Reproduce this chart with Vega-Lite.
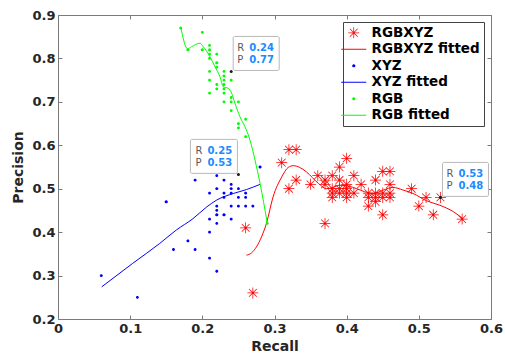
{
  "$schema": "https://vega.github.io/schema/vega-lite/v6.json",
  "width": 433,
  "height": 304,
  "autosize": "none",
  "padding": {"left": 58, "top": 15, "right": 14, "bottom": 35},
  "background": "white",
  "config": {
    "font": "DejaVu Sans",
    "view": {"stroke": null},
    "axis": {
      "grid": false,
      "domainColor": "#7a7a7a",
      "tickColor": "#7a7a7a",
      "tickSize": -4,
      "labelFont": "DejaVu Sans",
      "labelFontWeight": "bold",
      "labelFontSize": 13,
      "labelColor": "#262626",
      "labelOverlap": false,
      "labelFlush": false,
      "titleFont": "DejaVu Sans",
      "titleFontWeight": "bold",
      "titleFontSize": 14,
      "titleColor": "#262626"
    },
    "legend": {
      "orient": "top-right",
      "offset": 7,
      "labelFont": "DejaVu Sans",
      "labelFontWeight": "bold",
      "labelFontSize": 13.5,
      "labelColor": "#000000",
      "strokeColor": "#444444",
      "fillColor": "white",
      "padding": 4,
      "symbolSize": 100,
      "symbolStrokeWidth": 0,
      "rowPadding": 1.5,
      "symbolOffset": 0,
      "labelOffset": 11
    }
  },
  "datasets": {
    "pts": [
      {"series": "RGBXYZ", "x": 0.32, "y": 0.59}, {"series": "RGBXYZ", "x": 0.33, "y": 0.59},
      {"series": "RGBXYZ", "x": 0.31, "y": 0.56}, {"series": "RGBXYZ", "x": 0.40, "y": 0.57},
      {"series": "RGBXYZ", "x": 0.39, "y": 0.55}, {"series": "RGBXYZ", "x": 0.33, "y": 0.52},
      {"series": "RGBXYZ", "x": 0.32, "y": 0.50}, {"series": "RGBXYZ", "x": 0.35, "y": 0.51},
      {"series": "RGBXYZ", "x": 0.36, "y": 0.53}, {"series": "RGBXYZ", "x": 0.37, "y": 0.52},
      {"series": "RGBXYZ", "x": 0.38, "y": 0.53}, {"series": "RGBXYZ", "x": 0.37, "y": 0.51},
      {"series": "RGBXYZ", "x": 0.39, "y": 0.52}, {"series": "RGBXYZ", "x": 0.41, "y": 0.53},
      {"series": "RGBXYZ", "x": 0.42, "y": 0.51}, {"series": "RGBXYZ", "x": 0.38, "y": 0.50},
      {"series": "RGBXYZ", "x": 0.39, "y": 0.50}, {"series": "RGBXYZ", "x": 0.40, "y": 0.50},
      {"series": "RGBXYZ", "x": 0.41, "y": 0.49}, {"series": "RGBXYZ", "x": 0.38, "y": 0.49},
      {"series": "RGBXYZ", "x": 0.39, "y": 0.49}, {"series": "RGBXYZ", "x": 0.40, "y": 0.49},
      {"series": "RGBXYZ", "x": 0.38, "y": 0.48}, {"series": "RGBXYZ", "x": 0.40, "y": 0.48},
      {"series": "RGBXYZ", "x": 0.40, "y": 0.51}, {"series": "RGBXYZ", "x": 0.44, "y": 0.52},
      {"series": "RGBXYZ", "x": 0.45, "y": 0.54}, {"series": "RGBXYZ", "x": 0.46, "y": 0.54},
      {"series": "RGBXYZ", "x": 0.46, "y": 0.51}, {"series": "RGBXYZ", "x": 0.43, "y": 0.49},
      {"series": "RGBXYZ", "x": 0.44, "y": 0.49}, {"series": "RGBXYZ", "x": 0.45, "y": 0.49},
      {"series": "RGBXYZ", "x": 0.46, "y": 0.49}, {"series": "RGBXYZ", "x": 0.43, "y": 0.48},
      {"series": "RGBXYZ", "x": 0.44, "y": 0.48}, {"series": "RGBXYZ", "x": 0.45, "y": 0.48},
      {"series": "RGBXYZ", "x": 0.46, "y": 0.48}, {"series": "RGBXYZ", "x": 0.44, "y": 0.47},
      {"series": "RGBXYZ", "x": 0.43, "y": 0.46}, {"series": "RGBXYZ", "x": 0.45, "y": 0.44},
      {"series": "RGBXYZ", "x": 0.49, "y": 0.50}, {"series": "RGBXYZ", "x": 0.51, "y": 0.48},
      {"series": "RGBXYZ", "x": 0.50, "y": 0.46}, {"series": "RGBXYZ", "x": 0.52, "y": 0.44},
      {"series": "RGBXYZ", "x": 0.56, "y": 0.43}, {"series": "RGBXYZ", "x": 0.37, "y": 0.42},
      {"series": "RGBXYZ", "x": 0.26, "y": 0.41}, {"series": "RGBXYZ", "x": 0.27, "y": 0.26},
      {"series": "RGBXYZ", "x": 0.53, "y": 0.48},
      {"series": "XYZ", "x": 0.06, "y": 0.30}, {"series": "XYZ", "x": 0.11, "y": 0.25},
      {"series": "XYZ", "x": 0.15, "y": 0.47}, {"series": "XYZ", "x": 0.16, "y": 0.36},
      {"series": "XYZ", "x": 0.18, "y": 0.38}, {"series": "XYZ", "x": 0.19, "y": 0.36},
      {"series": "XYZ", "x": 0.19, "y": 0.52}, {"series": "XYZ", "x": 0.21, "y": 0.34},
      {"series": "XYZ", "x": 0.21, "y": 0.40}, {"series": "XYZ", "x": 0.21, "y": 0.43},
      {"series": "XYZ", "x": 0.21, "y": 0.49}, {"series": "XYZ", "x": 0.22, "y": 0.31},
      {"series": "XYZ", "x": 0.22, "y": 0.42}, {"series": "XYZ", "x": 0.22, "y": 0.44},
      {"series": "XYZ", "x": 0.22, "y": 0.45}, {"series": "XYZ", "x": 0.22, "y": 0.46},
      {"series": "XYZ", "x": 0.22, "y": 0.50}, {"series": "XYZ", "x": 0.22, "y": 0.53},
      {"series": "XYZ", "x": 0.23, "y": 0.44}, {"series": "XYZ", "x": 0.23, "y": 0.48},
      {"series": "XYZ", "x": 0.23, "y": 0.49}, {"series": "XYZ", "x": 0.23, "y": 0.52},
      {"series": "XYZ", "x": 0.24, "y": 0.43}, {"series": "XYZ", "x": 0.24, "y": 0.46},
      {"series": "XYZ", "x": 0.24, "y": 0.49}, {"series": "XYZ", "x": 0.24, "y": 0.50},
      {"series": "XYZ", "x": 0.24, "y": 0.51}, {"series": "XYZ", "x": 0.25, "y": 0.46},
      {"series": "XYZ", "x": 0.25, "y": 0.48}, {"series": "XYZ", "x": 0.25, "y": 0.50},
      {"series": "XYZ", "x": 0.26, "y": 0.46}, {"series": "XYZ", "x": 0.26, "y": 0.48},
      {"series": "XYZ", "x": 0.26, "y": 0.49}, {"series": "XYZ", "x": 0.27, "y": 0.46},
      {"series": "XYZ", "x": 0.28, "y": 0.55},
      {"series": "RGB", "x": 0.17, "y": 0.87}, {"series": "RGB", "x": 0.20, "y": 0.86},
      {"series": "RGB", "x": 0.18, "y": 0.82}, {"series": "RGB", "x": 0.21, "y": 0.83},
      {"series": "RGB", "x": 0.20, "y": 0.82}, {"series": "RGB", "x": 0.21, "y": 0.82},
      {"series": "RGB", "x": 0.21, "y": 0.81}, {"series": "RGB", "x": 0.22, "y": 0.81},
      {"series": "RGB", "x": 0.21, "y": 0.80}, {"series": "RGB", "x": 0.22, "y": 0.79},
      {"series": "RGB", "x": 0.22, "y": 0.78}, {"series": "RGB", "x": 0.21, "y": 0.77},
      {"series": "RGB", "x": 0.23, "y": 0.77}, {"series": "RGB", "x": 0.23, "y": 0.76},
      {"series": "RGB", "x": 0.21, "y": 0.75}, {"series": "RGB", "x": 0.23, "y": 0.75},
      {"series": "RGB", "x": 0.24, "y": 0.75}, {"series": "RGB", "x": 0.22, "y": 0.74},
      {"series": "RGB", "x": 0.23, "y": 0.74}, {"series": "RGB", "x": 0.22, "y": 0.73},
      {"series": "RGB", "x": 0.23, "y": 0.73}, {"series": "RGB", "x": 0.21, "y": 0.72},
      {"series": "RGB", "x": 0.23, "y": 0.72}, {"series": "RGB", "x": 0.24, "y": 0.71},
      {"series": "RGB", "x": 0.23, "y": 0.70}, {"series": "RGB", "x": 0.24, "y": 0.70},
      {"series": "RGB", "x": 0.25, "y": 0.70}, {"series": "RGB", "x": 0.24, "y": 0.68},
      {"series": "RGB", "x": 0.26, "y": 0.66}, {"series": "RGB", "x": 0.25, "y": 0.65},
      {"series": "RGB", "x": 0.25, "y": 0.64}, {"series": "RGB", "x": 0.26, "y": 0.62},
      {"series": "RGB", "x": 0.29, "y": 0.42}
    ],
    "fits": [
      {"series": "RGBXYZ fitted", "x": 0.261, "y": 0.347}, {"series": "RGBXYZ fitted", "x": 0.268, "y": 0.352},
      {"series": "RGBXYZ fitted", "x": 0.275, "y": 0.366}, {"series": "RGBXYZ fitted", "x": 0.282, "y": 0.389},
      {"series": "RGBXYZ fitted", "x": 0.289, "y": 0.421}, {"series": "RGBXYZ fitted", "x": 0.298, "y": 0.481},
      {"series": "RGBXYZ fitted", "x": 0.310, "y": 0.527}, {"series": "RGBXYZ fitted", "x": 0.319, "y": 0.549},
      {"series": "RGBXYZ fitted", "x": 0.326, "y": 0.553}, {"series": "RGBXYZ fitted", "x": 0.335, "y": 0.549},
      {"series": "RGBXYZ fitted", "x": 0.344, "y": 0.539}, {"series": "RGBXYZ fitted", "x": 0.361, "y": 0.512},
      {"series": "RGBXYZ fitted", "x": 0.372, "y": 0.500}, {"series": "RGBXYZ fitted", "x": 0.381, "y": 0.503},
      {"series": "RGBXYZ fitted", "x": 0.390, "y": 0.508}, {"series": "RGBXYZ fitted", "x": 0.402, "y": 0.506},
      {"series": "RGBXYZ fitted", "x": 0.414, "y": 0.500}, {"series": "RGBXYZ fitted", "x": 0.425, "y": 0.493},
      {"series": "RGBXYZ fitted", "x": 0.437, "y": 0.489}, {"series": "RGBXYZ fitted", "x": 0.451, "y": 0.497},
      {"series": "RGBXYZ fitted", "x": 0.464, "y": 0.503}, {"series": "RGBXYZ fitted", "x": 0.478, "y": 0.497},
      {"series": "RGBXYZ fitted", "x": 0.492, "y": 0.489}, {"series": "RGBXYZ fitted", "x": 0.511, "y": 0.472},
      {"series": "RGBXYZ fitted", "x": 0.529, "y": 0.462}, {"series": "RGBXYZ fitted", "x": 0.548, "y": 0.447},
      {"series": "RGBXYZ fitted", "x": 0.561, "y": 0.431},
      {"series": "XYZ fitted", "x": 0.0605, "y": 0.274}, {"series": "XYZ fitted", "x": 0.1034, "y": 0.328},
      {"series": "XYZ fitted", "x": 0.141, "y": 0.374}, {"series": "XYZ fitted", "x": 0.164, "y": 0.405},
      {"series": "XYZ fitted", "x": 0.187, "y": 0.431}, {"series": "XYZ fitted", "x": 0.206, "y": 0.458},
      {"series": "XYZ fitted", "x": 0.220, "y": 0.474}, {"series": "XYZ fitted", "x": 0.243, "y": 0.489},
      {"series": "XYZ fitted", "x": 0.261, "y": 0.498}, {"series": "XYZ fitted", "x": 0.280, "y": 0.510},
      {"series": "RGB fitted", "x": 0.170, "y": 0.873}, {"series": "RGB fitted", "x": 0.1796, "y": 0.822},
      {"series": "RGB fitted", "x": 0.185, "y": 0.827}, {"series": "RGB fitted", "x": 0.1967, "y": 0.835},
      {"series": "RGB fitted", "x": 0.2013, "y": 0.827}, {"series": "RGB fitted", "x": 0.2105, "y": 0.804},
      {"series": "RGB fitted", "x": 0.2175, "y": 0.781}, {"series": "RGB fitted", "x": 0.2244, "y": 0.758},
      {"series": "RGB fitted", "x": 0.229, "y": 0.735}, {"series": "RGB fitted", "x": 0.2359, "y": 0.731},
      {"series": "RGB fitted", "x": 0.2406, "y": 0.720}, {"series": "RGB fitted", "x": 0.2452, "y": 0.697},
      {"series": "RGB fitted", "x": 0.252, "y": 0.666}, {"series": "RGB fitted", "x": 0.259, "y": 0.643},
      {"series": "RGB fitted", "x": 0.266, "y": 0.612}, {"series": "RGB fitted", "x": 0.273, "y": 0.566},
      {"series": "RGB fitted", "x": 0.280, "y": 0.512}, {"series": "RGB fitted", "x": 0.290, "y": 0.421}
    ],
    "tips": [
      {"x": 0.24, "y": 0.77, "r": "0.24", "p": "0.77", "side": "right"},
      {"x": 0.25, "y": 0.533, "r": "0.25", "p": "0.53", "side": "left"},
      {"x": 0.53, "y": 0.48, "r": "0.53", "p": "0.48", "side": "right"}
    ]
  },
  "layer": [
    {
      "layer": [
        {
          "data": {"name": "fits"},
          "mark": {"type": "line", "interpolate": "monotone", "strokeWidth": 1},
          "encoding": {
            "x": {"field": "x", "type": "quantitative", "scale": {"domain": [0, 0.6]},
              "axis": {"values": [0, 0.1, 0.2, 0.3, 0.4, 0.5, 0.6], "labelExpr": "datum.value == 0 ? '0' : format(datum.value, '.1f')", "title": "Recall", "labelPadding": 7, "titlePadding": 4}},
            "y": {"field": "y", "type": "quantitative", "scale": {"domain": [0.2, 0.9]},
              "axis": {"values": [0.2, 0.3, 0.4, 0.5, 0.6, 0.7, 0.8, 0.9], "format": ".1f", "title": "Precision", "labelPadding": 7, "titlePadding": 6}},
            "color": {"field": "series", "type": "nominal",
              "scale": {"domain": ["RGBXYZ", "RGBXYZ fitted", "XYZ", "XYZ fitted", "RGB", "RGB fitted"],
                "range": ["#ff0000", "#ff0000", "#0000ff", "#0000ff", "#00ff00", "#00ff00"]},
              "legend": {"title": null}},
            "detail": {"field": "series"}
          }
        },
        {
          "data": {"name": "pts"},
          "mark": {"type": "point", "filled": true, "size": 100, "strokeWidth": 0, "opacity": 1},
          "encoding": {
            "x": {"field": "x", "type": "quantitative"},
            "y": {"field": "y", "type": "quantitative"},
            "color": {"field": "series", "type": "nominal", "legend": {"title": null}},
            "shape": {"field": "series", "type": "nominal",
              "scale": {"domain": ["RGBXYZ", "RGBXYZ fitted", "XYZ", "XYZ fitted", "RGB", "RGB fitted"],
                "range": [
                  "M-1.1,-0.075H1.1V0.075H-1.1Z M-0.075,-1.1H0.075V1.1H-0.075Z M-0.727,-0.833L0.833,0.727L0.727,0.833L-0.833,-0.727Z M-0.833,0.727L0.727,-0.833L0.833,-0.727L-0.727,0.833Z",
                  "M-2.5,-0.1H2.5V0.1H-2.5Z",
                  "M0.28,0.116L0.116,0.28L-0.116,0.28L-0.28,0.116L-0.28,-0.116L-0.116,-0.28L0.116,-0.28L0.28,-0.116Z",
                  "M-2.5,-0.1H2.5V0.1H-2.5Z",
                  "M0.28,0.116L0.116,0.28L-0.116,0.28L-0.28,0.116L-0.28,-0.116L-0.116,-0.28L0.116,-0.28L0.28,-0.116Z",
                  "M-2.5,-0.1H2.5V0.1H-2.5Z"
                ]},
              "legend": {"title": null}}
          }
        },
        {
          "data": {"name": "tips"},
          "mark": {"type": "point", "filled": true, "shape": "circle", "size": 9, "color": "#1a1a1a", "opacity": 1},
          "encoding": {
            "x": {"field": "x", "type": "quantitative"},
            "y": {"field": "y", "type": "quantitative"}
          }
        },
        {
          "data": {"name": "tips"},
          "transform": [{"filter": "datum.side == 'right'"}],
          "layer": [
            {"mark": {"type": "rect", "fill": "white", "stroke": "#b8b8b8", "strokeWidth": 1, "cornerRadius": 1.5, "xOffset": 2, "x2Offset": 48, "yOffset": -35, "y2Offset": -1},
             "encoding": {"x": {"field": "x", "type": "quantitative"}, "x2": {"field": "x"}, "y": {"field": "y", "type": "quantitative"}, "y2": {"field": "y"}}},
            {"mark": {"type": "text", "align": "left", "baseline": "alphabetic", "dx": 6, "dy": -20, "fontSize": 10, "color": "#5a5a5a"},
             "encoding": {"x": {"field": "x", "type": "quantitative"}, "y": {"field": "y", "type": "quantitative"}, "text": {"value": "R"}}},
            {"mark": {"type": "text", "align": "left", "baseline": "alphabetic", "dx": 6, "dy": -8, "fontSize": 10, "color": "#5a5a5a"},
             "encoding": {"x": {"field": "x", "type": "quantitative"}, "y": {"field": "y", "type": "quantitative"}, "text": {"value": "P"}}},
            {"mark": {"type": "text", "align": "left", "baseline": "alphabetic", "dx": 18, "dy": -20, "fontSize": 10, "fontWeight": "bold", "color": "#1a8cff"},
             "encoding": {"x": {"field": "x", "type": "quantitative"}, "y": {"field": "y", "type": "quantitative"}, "text": {"field": "r"}}},
            {"mark": {"type": "text", "align": "left", "baseline": "alphabetic", "dx": 18, "dy": -8, "fontSize": 10, "fontWeight": "bold", "color": "#1a8cff"},
             "encoding": {"x": {"field": "x", "type": "quantitative"}, "y": {"field": "y", "type": "quantitative"}, "text": {"field": "p"}}}
          ]
        },
        {
          "data": {"name": "tips"},
          "transform": [{"filter": "datum.side == 'left'"}],
          "layer": [
            {"mark": {"type": "rect", "fill": "white", "stroke": "#b8b8b8", "strokeWidth": 1, "cornerRadius": 1.5, "xOffset": -48, "x2Offset": -1, "yOffset": -35, "y2Offset": -1},
             "encoding": {"x": {"field": "x", "type": "quantitative"}, "x2": {"field": "x"}, "y": {"field": "y", "type": "quantitative"}, "y2": {"field": "y"}}},
            {"mark": {"type": "text", "align": "left", "baseline": "alphabetic", "dx": -43, "dy": -20, "fontSize": 10, "color": "#5a5a5a"},
             "encoding": {"x": {"field": "x", "type": "quantitative"}, "y": {"field": "y", "type": "quantitative"}, "text": {"value": "R"}}},
            {"mark": {"type": "text", "align": "left", "baseline": "alphabetic", "dx": -43, "dy": -8, "fontSize": 10, "color": "#5a5a5a"},
             "encoding": {"x": {"field": "x", "type": "quantitative"}, "y": {"field": "y", "type": "quantitative"}, "text": {"value": "P"}}},
            {"mark": {"type": "text", "align": "left", "baseline": "alphabetic", "dx": -31, "dy": -20, "fontSize": 10, "fontWeight": "bold", "color": "#1a8cff"},
             "encoding": {"x": {"field": "x", "type": "quantitative"}, "y": {"field": "y", "type": "quantitative"}, "text": {"field": "r"}}},
            {"mark": {"type": "text", "align": "left", "baseline": "alphabetic", "dx": -31, "dy": -8, "fontSize": 10, "fontWeight": "bold", "color": "#1a8cff"},
             "encoding": {"x": {"field": "x", "type": "quantitative"}, "y": {"field": "y", "type": "quantitative"}, "text": {"field": "p"}}}
          ]
        }
      ]
    },
    {
      "data": {"name": "tips"},
      "mark": {"type": "point", "opacity": 0},
      "encoding": {
        "x": {"field": "x", "type": "quantitative", "axis": {"orient": "top", "labels": false, "title": null, "values": [0, 0.1, 0.2, 0.3, 0.4, 0.5, 0.6]}},
        "y": {"field": "y", "type": "quantitative", "axis": {"orient": "right", "labels": false, "title": null, "values": [0.2, 0.3, 0.4, 0.5, 0.6, 0.7, 0.8, 0.9]}}
      }
    }
  ],
  "resolve": {"axis": {"x": "independent", "y": "independent"}}
}
